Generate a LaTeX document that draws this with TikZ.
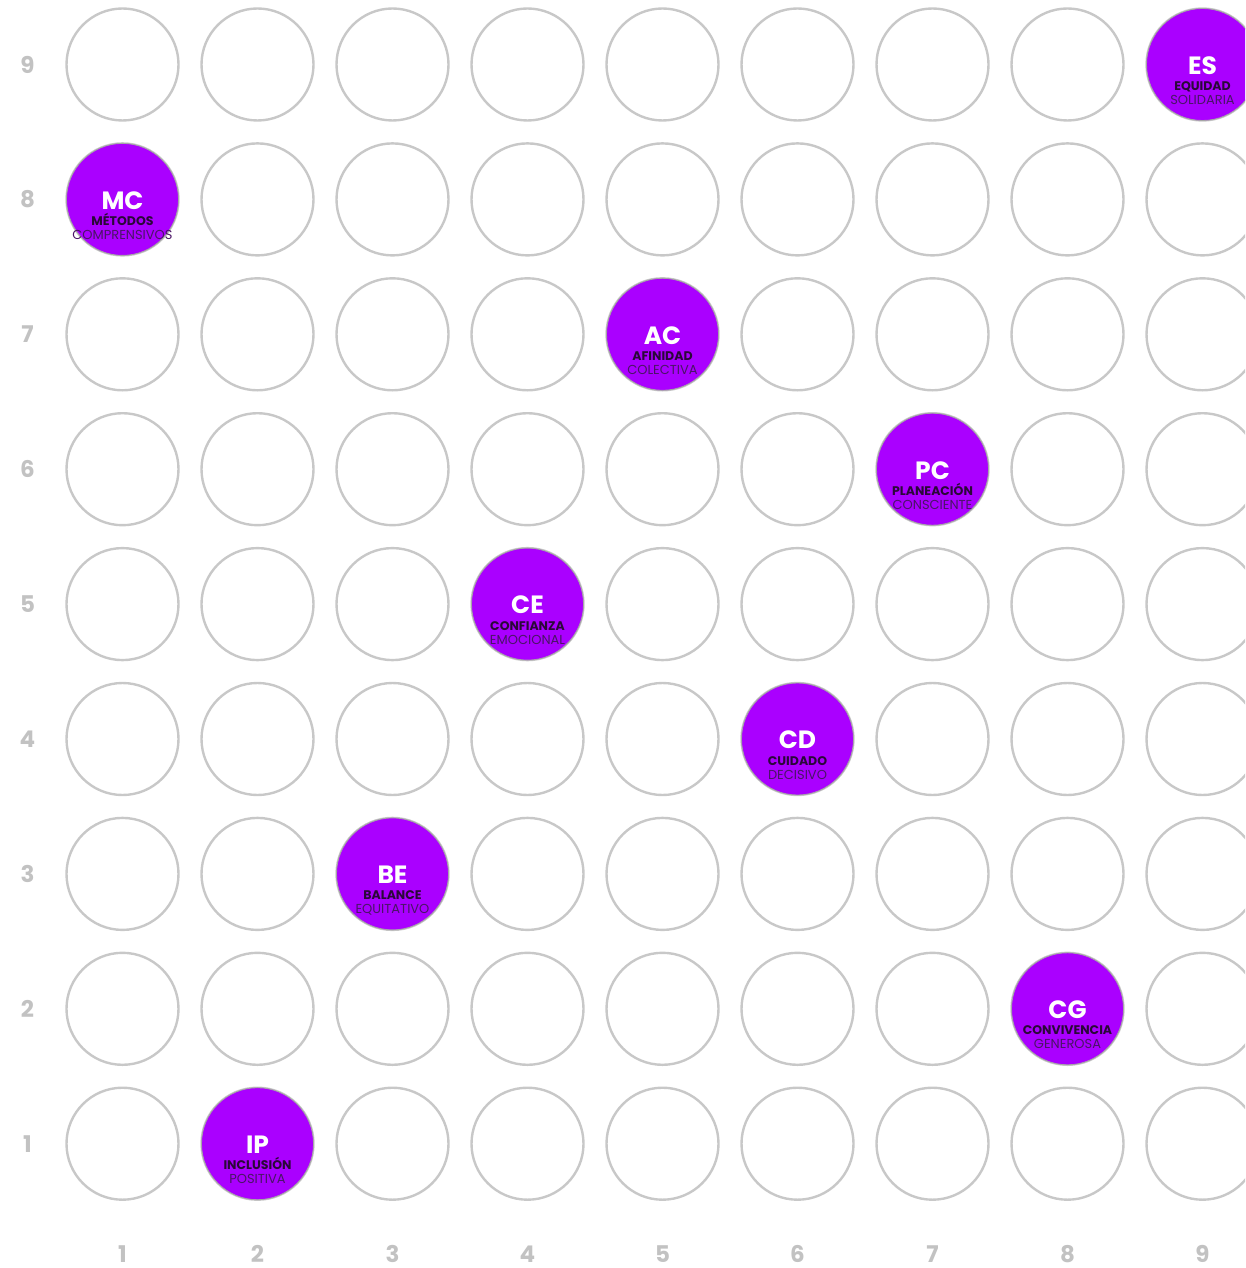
\documentclass[tikz,border=0pt]{standalone}
\usepackage{fontspec}
\setmainfont{Poppins}
\definecolor{ringgray}{HTML}{C8C8C8}
\definecolor{axisgray}{HTML}{C2C2C2}
\definecolor{vpurple}{HTML}{AA00FF}
\definecolor{subdark}{HTML}{2A0838}
\definecolor{sublight}{HTML}{4A1466}
\tikzset{
  ring/.style={circle, draw=ringgray, line width=2.4pt, minimum size=112pt, inner sep=0pt},
  hot/.style={circle, draw=black!35, fill=vpurple, line width=0.8pt, minimum size=112pt, inner sep=0pt},
  axislab/.style={text=axisgray, inner sep=0pt, font=\fontsize{23}{23}\selectfont\bfseries},
  abbr/.style={text=white, font=\fontsize{25}{25}\selectfont\bfseries},
  subA/.style={text=subdark, font=\fontsize{12.5}{12.5}\selectfont\bfseries},
  subB/.style={text=sublight, font=\fontsize{13}{13}\selectfont},
}
\begin{document}
\begin{tikzpicture}[x=1pt,y=-1pt]
\useasboundingbox (0,0) rectangle (1245,1268);
\begin{scope}
\clip (0,0) rectangle (1245,1268);
\foreach \c in {1,...,9}{
  \foreach \r in {1,...,9}{
    \node[ring] (c\c r\r) at ({122.5+135*(\c-1)},{64.5+134.9*(9-\r)}) {};
  }
}
\foreach \c/\r/\ab/\la/\lb in {
  9/9/ES/EQUIDAD/SOLIDARIA,
  1/8/MC/MÉTODOS/COMPRENSIVOS,
  5/7/AC/AFINIDAD/COLECTIVA,
  7/6/PC/PLANEACIÓN/CONSCIENTE,
  4/5/CE/CONFIANZA/EMOCIONAL,
  6/4/CD/CUIDADO/DECISIVO,
  3/3/BE/BALANCE/EQUITATIVO,
  8/2/CG/CONVIVENCIA/GENEROSA,
  2/1/IP/INCLUSIÓN/POSITIVA}{
  \node[hot] (h\c\r) at ({122.5+135*(\c-1)},{64.5+134.9*(9-\r)}) {};
  \node[abbr] (a\c\r) at ([yshift=-1pt]h\c\r.center) {\ab};
  \node[subA, anchor=base] (s\c\r) at ([yshift=-26pt]h\c\r.center) {\la};
  \node[subB, anchor=base] (t\c\r) at ([yshift=-40pt]h\c\r.center) {\lb};
}
\end{scope}
\foreach \r in {1,...,9}{
  \node[axislab] (yl\r) at (27.5,{64.5+134.9*(9-\r)}) {\r};
}
\foreach \c in {1,...,9}{
  \node[axislab, anchor=base] (xl\c) at ({122.5+135*(\c-1)},1262) {\c};
}
\end{tikzpicture}
\end{document}
